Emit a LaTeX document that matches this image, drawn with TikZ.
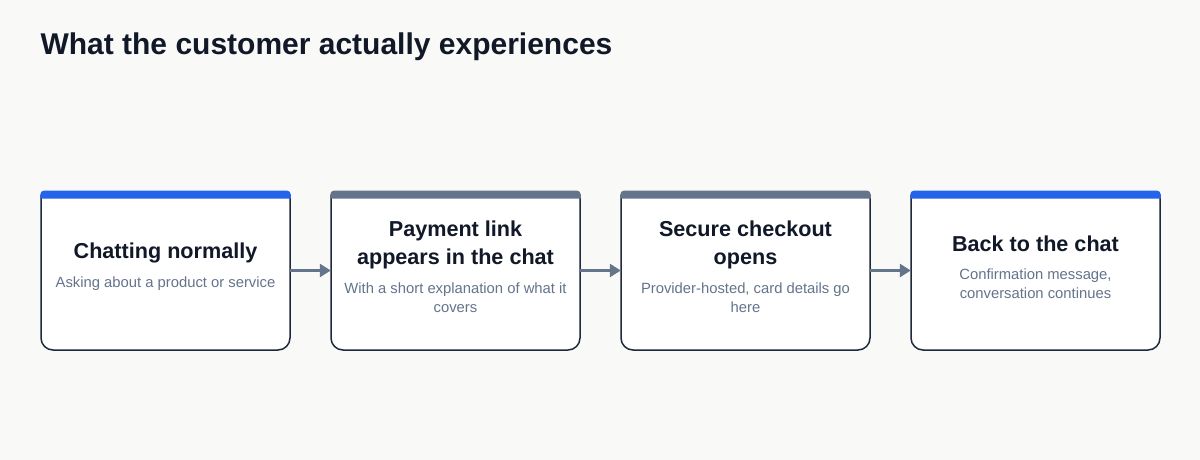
\documentclass[tikz,border=0pt]{standalone}
\usepackage{fontspec}
\setmainfont{Liberation Sans}
\usetikzlibrary{arrows.meta}
\definecolor{bg}{HTML}{F9F9F7}
\definecolor{ink}{HTML}{111827}
\definecolor{sub}{HTML}{64748B}
\definecolor{edge}{HTML}{1E293B}
\definecolor{blue}{HTML}{2563EB}
\definecolor{slate}{HTML}{64748B}
\begin{document}
\begin{tikzpicture}[x=1pt,y=-1pt,
  card/.style={rectangle,minimum width=249pt,minimum height=159pt,inner sep=0pt,draw=none},
  ttl/.style={font=\fontsize{21.6}{28}\selectfont\bfseries,text=ink,align=center},
  sbt/.style={font=\fontsize{14.8}{19}\selectfont,text=sub,align=center},
  conn/.style={draw=slate,line width=2.5pt,-{Triangle[length=11pt,width=13pt]}}]
\fill[bg] (0,0) rectangle (1200,460);
\useasboundingbox (0,0) rectangle (1200,460);
\node[anchor=west,font=\fontsize{30}{34}\selectfont\bfseries,text=ink] (title) at (37,47) {What the customer actually experiences};
\foreach \n/\x/\c in {b1/41/blue,b2/331/slate,b3/621/slate,b4/911/blue}{
  \node[card] (\n) at (\x+124.5,270.5) {};
  \fill[white] (\x,195) [rounded corners=12] -- (\x,350) -- (\x+249,350) -- (\x+249,195) [sharp corners]-- cycle;
  \draw[edge,line width=1.5pt,rounded corners=12] (\x,195) -- (\x,350) -- (\x+249,350) -- (\x+249,195);
  \fill[\c] (\x-0.75,198.5) [rounded corners=4] -- (\x-0.75,190.5) -- (\x+249.75,190.5) [sharp corners] -- (\x+249.75,198.5) -- cycle;
}
\node[ttl] (t1) at (165.5,253) {Chatting normally};
\node[sbt] (s1) at (165.5,284) {Asking about a product or service};
\node[ttl] (t2) at (455.5,245) {Payment link\\appears in the chat};
\node[sbt] (s2) at (455.5,298) {With a short explanation of what it\\covers};
\node[ttl] (t3) at (745.5,245) {Secure checkout\\opens};
\node[sbt] (s3) at (745.5,298) {Provider-hosted, card details go\\here};
\node[ttl] (t4) at (1035.5,244) {Back to the chat};
\node[sbt] (s4) at (1035.5,284) {Confirmation message,\\conversation continues};
\draw[conn] (b1.east) -- (b2.west);
\draw[conn] (b2.east) -- (b3.west);
\draw[conn] (b3.east) -- (b4.west);
\end{tikzpicture}
\end{document}
